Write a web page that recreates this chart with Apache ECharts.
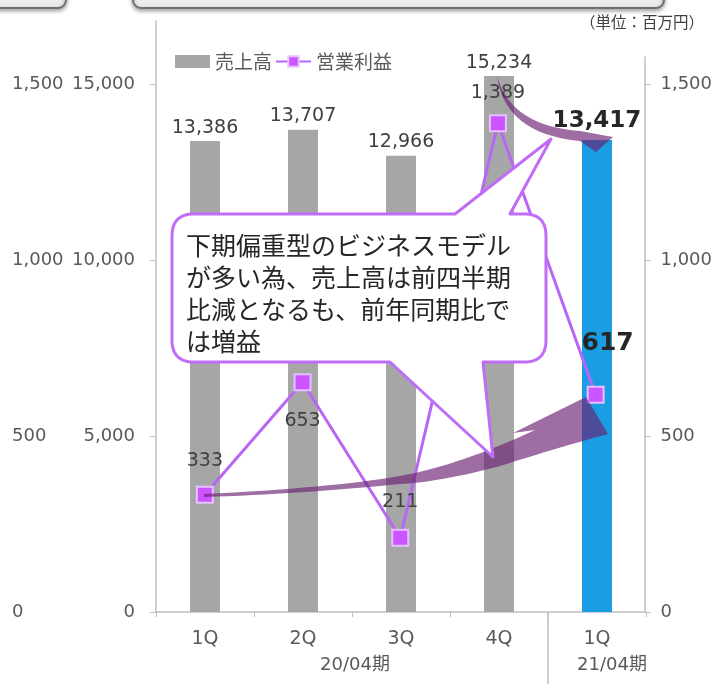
<!DOCTYPE html>
<html><head><meta charset="utf-8">
<script src="https://cdn.jsdelivr.net/npm/echarts@6/dist/echarts.min.js"></script>
<style>html,body{margin:0;padding:0;background:#fff}#c{width:715px;height:684px}</style>
</head><body><div id="c"></div>
<script>
const categories = ['1Q', '2Q', '3Q', '4Q', '1Q'];
const sales = [13386, 13707, 12966, 15234, 13417];
const opProfit = [333, 653, 211, 1389, 617];
const leftTicks = [0, 5000, 10000, 15000];
const rightTicks = [0, 500, 1000, 1500];
const periodNames = ['20/04期', '21/04期'];
const periodStart = [0, 4];
const periodEnd = [3, 4];
const unitText = '（単位：百万円）';
const noteText = '下期偏重型のビジネスモデル\nが多い為、売上高は前四半期\n比減となるも、前年同期比で\nは増益';

const NUM = '"DejaVu Sans", "Noto Sans CJK JP", sans-serif';
const CJK = '"Noto Sans CJK JP", "Noto Sans", sans-serif';
const fmt = v => v.toLocaleString('en-US');
const chart = echarts.init(document.getElementById('c'), null, {renderer: 'canvas'});

const barData = sales.map((v, i) => {
  const last = i === sales.length - 1;
  return {
    value: v,
    itemStyle: {color: last ? '#1b9de3' : '#a6a6a6'},
    label: last ? {fontSize: 23, fontWeight: 'bold', color: '#262626', distance: 7} : {}
  };
});
const lineLabelCfg = [
  {position: 'top', distance: 15},
  {position: 'bottom', distance: 20},
  {position: 'top', distance: 17},
  {position: 'top', distance: 12},
  {position: 'top', distance: 30, offset: [12, 0], fontSize: 25, fontWeight: 'bold', color: '#262626'}
];
const lineData = opProfit.map((v, i) => ({value: v, label: lineLabelCfg[i]}));

const axisCol = '#bfbfbf';
const labCol = '#595959';

chart.setOption({
  animation: false,
  textStyle: {fontFamily: NUM},
  legend: {
    left: 170, top: 47, itemWidth: 35, itemHeight: 13, itemGap: 3,
    textStyle: {fontSize: 19, color: labCol, fontFamily: CJK},
    data: [{name: '売上高', icon: 'rect'}, {name: '営業利益'}]
  },
  grid: [
    {left: 156, right: 69, top: 21, bottom: 72},
    {left: 156, right: 69, top: 57, bottom: 72}
  ],
  xAxis: [
    {type: 'category', gridIndex: 0, data: categories,
     axisLine: {lineStyle: {color: axisCol, width: 1.5}},
     axisTick: {show: true, length: 5, lineStyle: {color: axisCol}},
     axisLabel: {fontSize: 19, color: labCol, margin: 18, fontFamily: NUM}},
    {type: 'category', gridIndex: 1, data: categories, show: false}
  ],
  yAxis: [
    {type: 'value', gridIndex: 0, min: 0, max: 16800, position: 'left',
     splitLine: {show: false},
     axisLine: {show: true, lineStyle: {color: axisCol, width: 1.5}},
     axisTick: {show: true, length: 6, lineStyle: {color: axisCol}, customValues: leftTicks},
     axisLabel: {fontSize: 18, color: labCol, margin: 21, customValues: leftTicks, formatter: v => fmt(v), fontFamily: NUM}},
    {type: 'value', gridIndex: 1, min: 0, max: 1577, position: 'right',
     splitLine: {show: false},
     axisLine: {show: true, lineStyle: {color: axisCol, width: 1.5}},
     axisTick: {show: true, length: 6, lineStyle: {color: axisCol}, customValues: rightTicks},
     axisLabel: {fontSize: 18, color: labCol, margin: 16, customValues: rightTicks, formatter: v => fmt(v), fontFamily: NUM}},
    {type: 'value', gridIndex: 0, min: 0, max: 1680, position: 'left', offset: 139,
     splitLine: {show: false}, axisLine: {show: false}, axisTick: {show: false},
     axisLabel: {fontSize: 18, color: labCol, margin: 5, align: 'left', customValues: rightTicks, formatter: v => fmt(v), fontFamily: NUM}}
  ],
  series: [
    {name: '売上高', type: 'bar', xAxisIndex: 0, yAxisIndex: 0, barWidth: 30, z: 2,
     itemStyle: {color: '#a6a6a6'},
     label: {show: true, position: 'top', distance: 4, fontSize: 19, color: '#404040', fontFamily: NUM, formatter: p => fmt(p.value)},
     data: barData},
    {name: '営業利益', type: 'line', xAxisIndex: 1, yAxisIndex: 1, z: 3,
     symbol: 'rect', symbolSize: 16,
     lineStyle: {color: '#b866f5', width: 3},
     itemStyle: {color: '#cc55ff', borderColor: '#e6c2ff', borderWidth: 2},
     label: {show: true, fontSize: 19, color: '#404040', fontFamily: NUM, formatter: p => fmt(p.value)},
     data: lineData}
  ]
});

// ---- annotations (decorations, not data marks) ----
function quad(p0, c, p1, n) {
  const out = [];
  for (let k = 1; k <= n; k++) {
    const t = k / n, u = 1 - t;
    out.push([u * u * p0[0] + 2 * u * t * c[0] + t * t * p1[0], u * u * p0[1] + 2 * u * t * c[1] + t * t * p1[1]]);
  }
  return out;
}
function buildPath(start, segs) {
  const pts = [start];
  let cur = start;
  segs.forEach(s => {
    if (s.length === 2 && Array.isArray(s[0])) { pts.push(...quad(cur, s[0], s[1], 16)); cur = s[1]; }
    else { pts.push(s); cur = s; }
  });
  return pts;
}
const px = (i) => chart.convertToPixel({xAxisIndex: 0}, i);
const baseY = chart.convertToPixel({yAxisIndex: 0}, 0);
const gfx = [];
// top cut-off boxes
const boxStyle = {fill: '#ececec', stroke: '#6f6f6f', lineWidth: 2, shadowBlur: 4, shadowColor: 'rgba(0,0,0,0.35)', shadowOffsetY: 2};
gfx.push({type: 'rect', shape: {x: -12, y: -22, width: 78, height: 30, r: 8}, style: boxStyle, z: 50});
gfx.push({type: 'rect', shape: {x: 133, y: -22, width: 531, height: 30, r: 8}, style: boxStyle, z: 50});
// unit
gfx.push({type: 'text', style: {x: 704, y: 22, text: unitText, align: 'right', verticalAlign: 'middle', fontSize: 15.5, fill: '#404040', fontFamily: CJK}, z: 50});
// period separator and labels
const sepX = (px(3) + px(4)) / 2;
gfx.push({type: 'line', shape: {x1: sepX, y1: baseY, x2: sepX, y2: 684}, style: {stroke: axisCol, lineWidth: 1.5}, z: 50});
periodNames.forEach((n, k) => {
  const cx = (px(periodStart[k]) + px(periodEnd[k])) / 2 + (k === 0 ? 3 : 15);
  gfx.push({type: 'text', style: {x: cx, y: 665, text: n, align: 'center', verticalAlign: 'middle', fontSize: 18, fill: labCol, fontFamily: NUM}, z: 50});
});
// curved arrows
const arrowFill = 'rgba(105,30,115,0.65)';
const arrow1 = buildPath([497, 76], [[[511, 126], [580, 131]], [613, 137], [596, 152], [580, 141], [[505, 134], [497, 76]]]);
gfx.push({type: 'polygon', z: 90, shape: {points: arrow1}, style: {fill: arrowFill}});
const arrow2 = buildPath([204, 494], [[[330, 488], [400, 476]], [[460, 465], [535, 430]], [513, 433], [586, 397], [608, 434],
  [[560, 447], [500, 466]], [[440, 482], [400, 484]], [[300, 494], [204, 497]]]);
gfx.push({type: 'polygon', z: 90, shape: {points: arrow2}, style: {fill: arrowFill}});
// callout bubble
const L = 172, T = 214, R = 546, B = 362, r = 22;
const bubble = buildPath([L + r, T], [[455, T], [551, 139], [510, T], [R - r, T], [[R, T], [R, T + r]], [R, B - r], [[R, B], [R - r, B]],
  [483, B], [493, 457], [390, B], [L + r, B], [[L, B], [L, B - r]], [L, T + r], [[L, T], [L + r, T]]]);
gfx.push({type: 'polygon', z: 100, shape: {points: bubble}, style: {fill: '#ffffff', stroke: '#bf6cf7', lineWidth: 3, lineJoin: 'round'}});
gfx.push({type: 'text', z: 101, style: {x: 186, y: 229, text: noteText, fontSize: 25, lineHeight: 32, fill: '#262626', fontFamily: CJK}});
chart.setOption({graphic: gfx});
</script></body></html>
